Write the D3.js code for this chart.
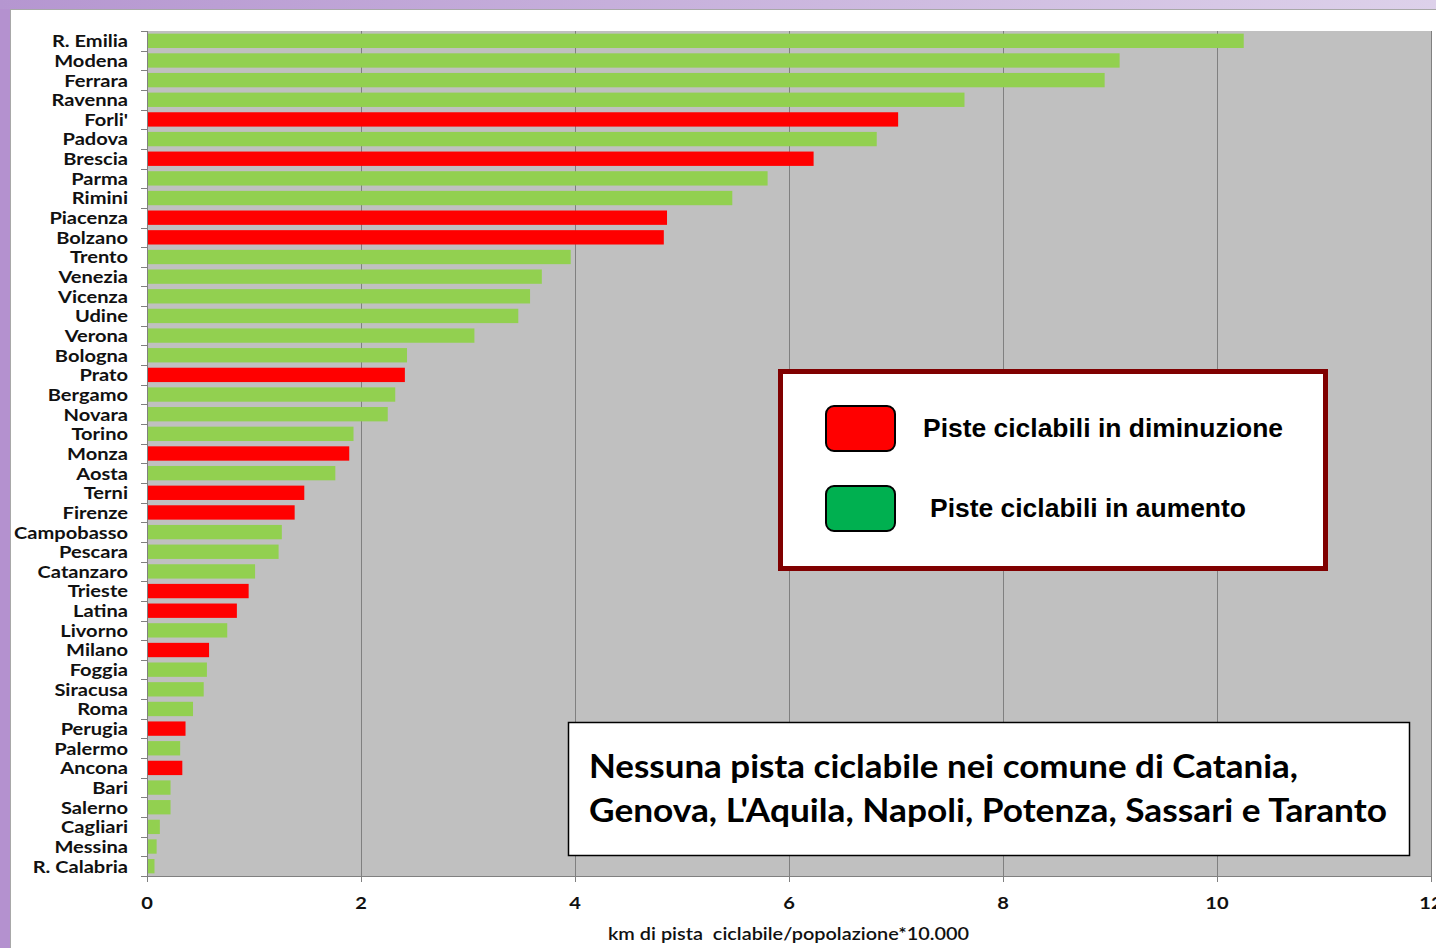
<!DOCTYPE html>
<html><head><meta charset="utf-8">
<script src="https://cdn.jsdelivr.net/npm/d3@7"></script>
<style>
html,body{margin:0;padding:0;background:#fff;}
svg{display:block;}
</style></head>
<body>
<svg id="c" width="1436" height="948"></svg>
<script>
const categories = ["R. Emilia","Modena","Ferrara","Ravenna","Forli'","Padova","Brescia","Parma","Rimini","Piacenza","Bolzano","Trento","Venezia","Vicenza","Udine","Verona","Bologna","Prato","Bergamo","Novara","Torino","Monza","Aosta","Terni","Firenze","Campobasso","Pescara","Catanzaro","Trieste","Latina","Livorno","Milano","Foggia","Siracusa","Roma","Perugia","Palermo","Ancona","Bari","Salerno","Cagliari","Messina","R. Calabria"];
const values = [10.25,9.09,8.95,7.64,7.02,6.82,6.23,5.80,5.47,4.86,4.83,3.96,3.69,3.58,3.47,3.06,2.43,2.41,2.32,2.25,1.93,1.89,1.76,1.47,1.38,1.26,1.23,1.01,0.95,0.84,0.75,0.58,0.56,0.53,0.43,0.36,0.31,0.33,0.22,0.22,0.12,0.09,0.07];
const trend = ["aumento","aumento","aumento","aumento","diminuzione","aumento","diminuzione","aumento","aumento","diminuzione","diminuzione","aumento","aumento","aumento","aumento","aumento","aumento","diminuzione","aumento","aumento","aumento","diminuzione","aumento","diminuzione","diminuzione","aumento","aumento","aumento","diminuzione","diminuzione","aumento","diminuzione","aumento","aumento","aumento","diminuzione","aumento","diminuzione","aumento","aumento","aumento","aumento","aumento"];
const xTicks = [0,2,4,6,8,10,12];
const xTitle = "km di pista  ciclabile/popolazione*10.000";
const legendLabels = ["Piste ciclabili in diminuzione","Piste ciclabili in aumento"];
const noteLines = ["Nessuna pista ciclabile nei comune di Catania,","Genova, L'Aquila, Napoli, Potenza, Sassari e Taranto"];

const svg = d3.select("#c");
// frame
const defs = svg.append("defs");
const g1 = defs.append("linearGradient").attr("id","topg").attr("x1","0").attr("x2","1");
g1.append("stop").attr("offset","0").attr("stop-color","#b596d0");
g1.append("stop").attr("offset","1").attr("stop-color","#ddd1ea");
svg.append("rect").attr("width",1436).attr("height",948).attr("fill","#b491cf");
svg.append("rect").attr("x",0).attr("y",0).attr("width",1436).attr("height",9).attr("fill","url(#topg)");
svg.append("rect").attr("x",10).attr("y",9).attr("width",1426).attr("height",939).attr("fill","#fff");
svg.append("line").attr("x1",10).attr("x2",1436).attr("y1",9.5).attr("y2",9.5).attr("stroke","#a8a8a8");
svg.append("line").attr("x1",10.5).attr("x2",10.5).attr("y1",9).attr("y2",948).attr("stroke","#a8a8a8");

const x = d3.scaleLinear().domain([0,12]).range([147,1431]);
const y = d3.scaleBand().domain(categories).range([31,876]).paddingInner(0.27).paddingOuter(0.135);
const color = d3.scaleOrdinal().domain(["diminuzione","aumento"]).range(["#ff0000","#92d050"]);

// plot bg
svg.append("rect").attr("x",x(0)).attr("y",31).attr("width",x(12)-x(0)).attr("height",845).attr("fill","#c0c0c0");
// grid
svg.append("g").selectAll("line").data(xTicks.filter(d=>d>0)).join("line")
  .attr("x1",d=>x(d)+0.5).attr("x2",d=>x(d)+0.5).attr("y1",31).attr("y2",876)
  .attr("stroke","#808080").attr("stroke-width",1);

// bars
svg.append("g").selectAll("rect").data(categories).join("rect")
  .attr("x",x(0)).attr("y",d=>y(d)).attr("height",y.bandwidth())
  .attr("width",(d,i)=>x(values[i])-x(0))
  .attr("fill",(d,i)=>color(trend[i]));

// y axis
const ya = svg.append("g");
ya.append("line").attr("x1",x(0)+0.5).attr("x2",x(0)+0.5).attr("y1",31).attr("y2",876).attr("stroke","#808080");
const bounds = d3.range(categories.length+1).map(i=>y.range()[0]+i*y.step());
ya.selectAll(".tk").data(bounds).join("line")
  .attr("x1",x(0)-6).attr("x2",x(0)).attr("y1",d=>Math.round(d)+0.5).attr("y2",d=>Math.round(d)+0.5)
  .attr("stroke","#808080");
const labs = ya.selectAll("text").data(categories).join("text")
  .attr("text-anchor","end").attr("dominant-baseline","central")
  .attr("font-family","Lato").attr("font-weight","bold").attr("font-size",17).attr("fill","#111")
  .text(d=>d);
// measure stretch
let w = 0;
labs.each(function(d){ if(d==="Campobasso") w=this.getComputedTextLength(); });
const sx = w>0 ? 114/w : 1;
labs.attr("transform",d=>`translate(128,${y(d)+y.bandwidth()/2}) scale(${sx},1)`);

// x axis
const xa = svg.append("g");
xa.append("line").attr("x1",x(0)).attr("x2",x(12)).attr("y1",876.5).attr("y2",876.5).attr("stroke","#808080");
xa.selectAll(".tk").data(xTicks).join("line")
  .attr("x1",d=>x(d)+0.5).attr("x2",d=>x(d)+0.5).attr("y1",876).attr("y2",882).attr("stroke","#808080");
xa.selectAll("text").data(xTicks).join("text")
  .attr("text-anchor","middle").attr("dominant-baseline","central")
  .attr("font-family","Lato").attr("font-weight","bold").attr("font-size",17).attr("fill","#111")
  .attr("transform",d=>`translate(${x(d)},903) scale(${sx},1)`)
  .text(d=>d);
svg.append("text").attr("x",608).attr("y",940).attr("font-family","Lato").attr("font-weight","600")
  .attr("font-size",17).attr("fill","#111").attr("textLength",361).attr("lengthAdjust","spacingAndGlyphs")
  .style("white-space","pre").text(xTitle);

// legend box
const lg = svg.append("g");
lg.append("rect").attr("x",780.5).attr("y",371.5).attr("width",545).attr("height",197)
  .attr("fill","#fff").attr("stroke","#800000").attr("stroke-width",5);
const lgY = [428,508];
const lgTx = [923,930];
const lgW = [360,316];
lg.selectAll(".sw").data(legendLabels).join("rect")
  .attr("x",826).attr("y",(d,i)=>lgY[i]-22).attr("width",69).attr("height",45)
  .attr("rx",8).attr("ry",8)
  .attr("fill",(d,i)=>i===0?"#ff0000":"#00b050").attr("stroke","#000").attr("stroke-width",2);
lg.selectAll("text").data(legendLabels).join("text")
  .attr("x",(d,i)=>lgTx[i]).attr("y",(d,i)=>lgY[i]+9)
  .attr("font-family","Liberation Sans, Arial").attr("font-weight","bold").attr("font-size",25).attr("fill","#000")
  .attr("textLength",(d,i)=>lgW[i]).attr("lengthAdjust","spacingAndGlyphs")
  .text(d=>d);

// note box
const nb = svg.append("g");
nb.append("rect").attr("x",568.5).attr("y",722.5).attr("width",841).attr("height",133)
  .attr("fill","#fff").attr("stroke","#000").attr("stroke-width",1.5);
const noteW = [709,798];
nb.selectAll("text").data(noteLines).join("text")
  .attr("x",589).attr("y",(d,i)=>778+i*44)
  .attr("font-family","Lato").attr("font-weight","bold").attr("font-size",33).attr("fill","#000")
  .attr("textLength",(d,i)=>noteW[i]).attr("lengthAdjust","spacingAndGlyphs")
  .text(d=>d);
</script>
</body></html>
